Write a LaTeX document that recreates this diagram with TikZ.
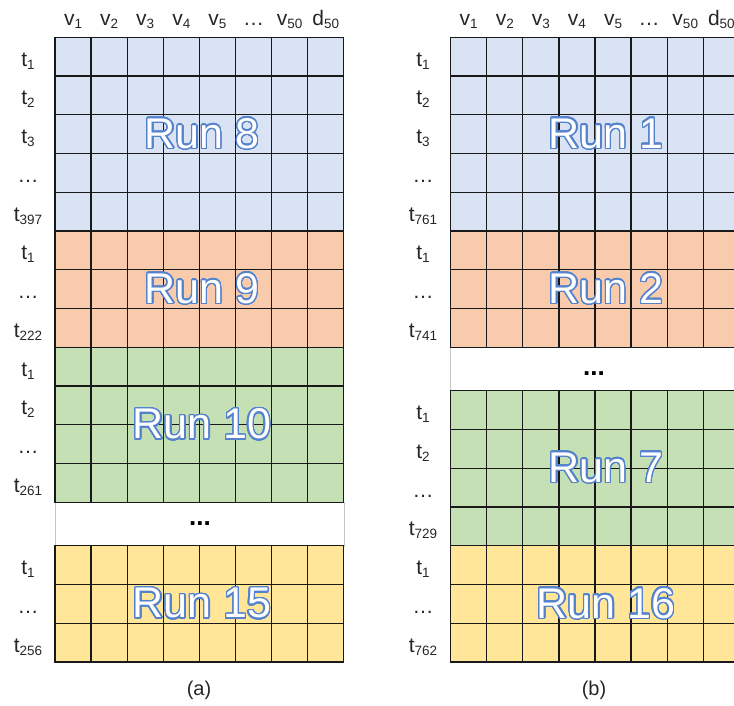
\documentclass[tikz,border=0pt]{standalone}
\usepackage{fontspec}
\setmainfont{Liberation Sans}
\usepackage{contour}
\contourlength{1.4pt}
\contournumber{32}
\definecolor{runblue}{RGB}{218,227,243}
\definecolor{runorange}{RGB}{248,203,173}
\definecolor{rungreen}{RGB}{197,224,180}
\definecolor{runyellow}{RGB}{255,230,153}
\definecolor{edgeblue}{RGB}{84,130,205}
\newcommand{\sub}[1]{\raisebox{-3pt}{\fontsize{13.5}{13.5}\selectfont #1}}
\def\cw{36.1}
\def\rh{38.75}

\begin{document}
\begin{tikzpicture}[x=1pt, y=-1pt,
  cell/.style={draw=black!90, line width=1.25pt},
  gapbox/.style={draw=gray!45, line width=0.5pt, fill=white},
  hdr/.style={anchor=base, inner sep=0pt, text=black!85, font=\fontsize{21}{21}\selectfont},
  tlbl/.style={anchor=base, inner sep=0pt, text=black!85, font=\fontsize{21}{21}\selectfont},
  runlbl/.style={inner sep=0pt, text=white, font=\fontsize{43}{43}\selectfont},
  gapdots/.style={inner sep=0pt, font=\bfseries\fontsize{26}{26}\selectfont},
  caption/.style={inner sep=0pt, text=black!85, font=\fontsize{20}{20}\selectfont}
]
  \useasboundingbox (0,0) rectangle (734,706);
  \clip (0,0) rectangle (734,706);

  % gaps between runs
  \draw[gapbox] (55,502.3) rectangle (343.8,545.8);
  \draw[gapbox] (450.6,347.3) rectangle (739.4,390.8);

  % cells of each run
  \foreach \xo/\yo/\nrows/\col in {55/37.3/5/runblue, 55/231.05/3/runorange,
      55/347.3/4/rungreen, 55/545.8/3/runyellow,
      450.6/37.3/5/runblue, 450.6/231.05/3/runorange,
      450.6/390.8/4/rungreen, 450.6/545.8/3/runyellow} {
    \pgfmathtruncatemacro\lastrow{\nrows-1}
    \foreach \i in {0,...,7}
      \foreach \j in {0,...,\lastrow}
        \draw[cell, fill=\col] (\xo+\i*\cw, \yo+\j*\rh) rectangle ++(\cw,\rh);
  }

  % column headers
  \foreach \h [count=\c from 0] in {v\sub{1}, v\sub{2}, v\sub{3}, v\sub{4}, v\sub{5}, \dots, v\sub{50}, d\sub{50}} {
    \node[hdr] (ha\c) at (55+\c*\cw+18.05, 26) {\h};
    \node[hdr] (hb\c) at (450.6+\c*\cw+18.05, 26) {\h};
  }

  % row labels (a)
  \foreach \lbl [count=\k from 0] in {t\sub{1}, t\sub{2}, t\sub{3}, \dots, t\sub{397}}
    \node[tlbl] (ta8-\k) at (28, 37.3+\k*\rh+28.9) {\lbl};
  \foreach \lbl [count=\k from 0] in {t\sub{1}, \dots, t\sub{222}}
    \node[tlbl] (ta9-\k) at (28, 231.05+\k*\rh+28.9) {\lbl};
  \foreach \lbl [count=\k from 0] in {t\sub{1}, t\sub{2}, \dots, t\sub{261}}
    \node[tlbl] (ta10-\k) at (28, 347.3+\k*\rh+28.9) {\lbl};
  \foreach \lbl [count=\k from 0] in {t\sub{1}, \dots, t\sub{256}}
    \node[tlbl] (ta15-\k) at (28, 545.8+\k*\rh+28.9) {\lbl};

  % row labels (b)
  \foreach \lbl [count=\k from 0] in {t\sub{1}, t\sub{2}, t\sub{3}, \dots, t\sub{761}}
    \node[tlbl] (tb1-\k) at (423, 37.3+\k*\rh+28.9) {\lbl};
  \foreach \lbl [count=\k from 0] in {t\sub{1}, \dots, t\sub{741}}
    \node[tlbl] (tb2-\k) at (423, 231.05+\k*\rh+28.9) {\lbl};
  \foreach \lbl [count=\k from 0] in {t\sub{1}, t\sub{2}, \dots, t\sub{729}}
    \node[tlbl] (tb7-\k) at (423, 390.8+\k*\rh+28.9) {\lbl};
  \foreach \lbl [count=\k from 0] in {t\sub{1}, \dots, t\sub{762}}
    \node[tlbl] (tb16-\k) at (423, 545.8+\k*\rh+28.9) {\lbl};

  % run names
  \node[runlbl] (run8) at (202,134.2) {\contour{edgeblue}{Run 8}};
  \node[runlbl] (run9) at (202,289.2) {\contour{edgeblue}{Run 9}};
  \node[runlbl] (run10) at (202,424.8) {\contour{edgeblue}{Run 10}};
  \node[runlbl] (run15) at (202,604) {\contour{edgeblue}{Run 15}};
  \node[runlbl] (run1) at (606,134.2) {\contour{edgeblue}{Run 1}};
  \node[runlbl] (run2) at (606,289.2) {\contour{edgeblue}{Run 2}};
  \node[runlbl] (run7) at (606,468.3) {\contour{edgeblue}{Run 7}};
  \node[runlbl] (run16) at (606,604) {\contour{edgeblue}{Run 16}};

  \node[gapdots] (gapa) at (200,523.5) {...};
  \node[gapdots] (gapb) at (594,373.3) {...};

  \node[caption] (capa) at (199,690) {(a)};
  \node[caption] (capb) at (594,690) {(b)};
\end{tikzpicture}
\end{document}
